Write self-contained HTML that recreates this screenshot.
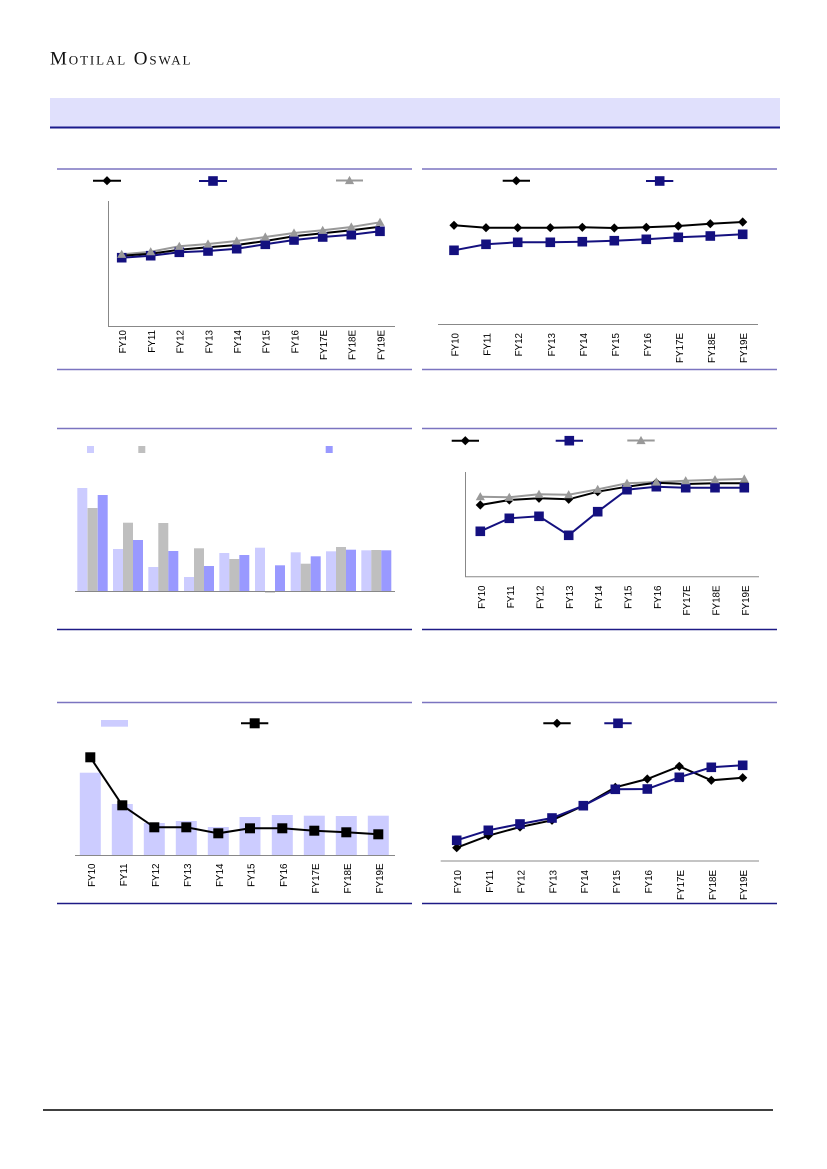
<!DOCTYPE html>
<html><head><meta charset="utf-8"><style>
html,body{margin:0;padding:0;background:#fff;}
svg{display:block;}
text{font-family:"Liberation Sans",Arial,sans-serif;}
</style></head><body>
<svg width="827" height="1169" viewBox="0 0 827 1169" xmlns="http://www.w3.org/2000/svg">
<defs>
<g id="dia"><path d="M0,-4.6 L4.6,0 L0,4.6 L-4.6,0Z" fill="#000"/></g>
<g id="sqn"><rect x="-4.8" y="-4.8" width="9.6" height="9.6" fill="#14107f"/></g>
<g id="sqk"><rect x="-5" y="-5" width="10" height="10" fill="#000"/></g>
<g id="tri"><path d="M0,-4.6 L4.6,3.6 L-4.6,3.6Z" fill="#999"/></g>
</defs>

<!-- Header -->
<text x="50" y="64.5" font-size="19" style="font-family:'Liberation Serif',serif;font-variant:small-caps;letter-spacing:1.9px" fill="#111">Motilal Oswal</text>
<rect x="50" y="98" width="730" height="29" fill="#e0e0fc"/>
<rect x="50" y="126.5" width="730" height="2" fill="#1a1a8c"/>

<!-- panel rules -->
<g stroke-width="1.5">
<line x1="57" y1="169" x2="412" y2="169" stroke="#7b74c0"/>
<line x1="422" y1="169" x2="777" y2="169" stroke="#7b74c0"/>
<line x1="57" y1="369.5" x2="412" y2="369.5" stroke="#7b74c0"/>
<line x1="422" y1="369.5" x2="777" y2="369.5" stroke="#7b74c0"/>
<line x1="57" y1="428.5" x2="412" y2="428.5" stroke="#7b74c0"/>
<line x1="422" y1="428.5" x2="777" y2="428.5" stroke="#7b74c0"/>
<line x1="57" y1="629.5" x2="412" y2="629.5" stroke="#1e1a86"/>
<line x1="422" y1="629.5" x2="777" y2="629.5" stroke="#1e1a86"/>
<line x1="57" y1="702.5" x2="412" y2="702.5" stroke="#7b74c0"/>
<line x1="422" y1="702.5" x2="777" y2="702.5" stroke="#7b74c0"/>
<line x1="57" y1="903.5" x2="412" y2="903.5" stroke="#1e1a86"/>
<line x1="422" y1="903.5" x2="777" y2="903.5" stroke="#1e1a86"/>
</g>

<!-- ===== Chart 1 ===== -->
<g>
<line x1="108.5" y1="201" x2="108.5" y2="326.5" stroke="#888" stroke-width="1"/>
<line x1="108" y1="326.5" x2="395" y2="326.5" stroke="#888" stroke-width="1"/>
<line x1="93" y1="180.7" x2="121" y2="180.7" stroke="#000" stroke-width="2"/><use href="#dia" x="107" y="180.7"/>
<line x1="199" y1="181" x2="227" y2="181" stroke="#14107f" stroke-width="2"/><use href="#sqn" x="213" y="181"/>
<line x1="336" y1="180.5" x2="363" y2="180.5" stroke="#999" stroke-width="2"/><use href="#tri" x="349.5" y="180.5"/>
<polyline fill="none" stroke="#999" stroke-width="2" points="121.7,254.3 150.7,251.7 179.3,246.3 208,244 236.7,241 265.3,237 294,233 322.7,230.3 351.3,227 380,222.3"/>
<polyline fill="none" stroke="#000" stroke-width="2" points="121.7,255.7 150.7,253.7 179.3,249.7 208,247.3 236.7,245 265.3,241 294,236.3 322.7,233.3 351.3,230.3 380,226.7"/>
<polyline fill="none" stroke="#14107f" stroke-width="2" points="121.7,257.7 150.7,255.7 179.3,252.3 208,251 236.7,248.7 265.3,244.3 294,240 322.7,237 351.3,234.7 380,231.3"/>
<g>
<use href="#sqn" x="121.7" y="257.7"/><use href="#sqn" x="150.7" y="255.7"/><use href="#sqn" x="179.3" y="252.3"/><use href="#sqn" x="208" y="251"/><use href="#sqn" x="236.7" y="248.7"/><use href="#sqn" x="265.3" y="244.3"/><use href="#sqn" x="294" y="240"/><use href="#sqn" x="322.7" y="237"/><use href="#sqn" x="351.3" y="234.7"/><use href="#sqn" x="380" y="231.3"/>
<use href="#tri" x="121.7" y="254.3"/><use href="#tri" x="150.7" y="251.7"/><use href="#tri" x="179.3" y="246.3"/><use href="#tri" x="208" y="244"/><use href="#tri" x="236.7" y="241"/><use href="#tri" x="265.3" y="237"/><use href="#tri" x="294" y="233"/><use href="#tri" x="322.7" y="230.3"/><use href="#tri" x="351.3" y="227"/><use href="#tri" x="380" y="222.3"/>
</g>
<g font-size="9.8" fill="#000" text-anchor="end">
<text transform="translate(126,330) rotate(-90)">FY10</text>
<text transform="translate(155,330) rotate(-90)">FY11</text>
<text transform="translate(183.6,330) rotate(-90)">FY12</text>
<text transform="translate(212.3,330) rotate(-90)">FY13</text>
<text transform="translate(241,330) rotate(-90)">FY14</text>
<text transform="translate(269.6,330) rotate(-90)">FY15</text>
<text transform="translate(298.3,330) rotate(-90)">FY16</text>
<text transform="translate(327,330) rotate(-90)">FY17E</text>
<text transform="translate(355.6,330) rotate(-90)">FY18E</text>
<text transform="translate(384.3,330) rotate(-90)">FY19E</text>
</g>
</g>

<!-- ===== Chart 2 ===== -->
<g>
<line x1="438" y1="324.5" x2="758" y2="324.5" stroke="#888" stroke-width="1"/>
<line x1="502.7" y1="180.7" x2="530" y2="180.7" stroke="#000" stroke-width="2"/><use href="#dia" x="516.3" y="180.7"/>
<line x1="646" y1="181" x2="673.3" y2="181" stroke="#14107f" stroke-width="2"/><use href="#sqn" x="659.7" y="181"/>
<polyline fill="none" stroke="#000" stroke-width="2" points="454,225.3 486,227.7 517.7,227.7 550.3,227.7 582.3,227.3 614.3,228 646.3,227.3 678.3,226 710.3,223.7 742.7,222"/>
<polyline fill="none" stroke="#14107f" stroke-width="2" points="454,250.3 486,244.3 517.7,242.3 550.3,242.3 582.3,241.7 614.3,240.7 646.3,239.3 678.3,237.3 710.3,236 742.7,234.3"/>
<use href="#dia" x="454" y="225.3"/><use href="#dia" x="486" y="227.7"/><use href="#dia" x="517.7" y="227.7"/><use href="#dia" x="550.3" y="227.7"/><use href="#dia" x="582.3" y="227.3"/><use href="#dia" x="614.3" y="228"/><use href="#dia" x="646.3" y="227.3"/><use href="#dia" x="678.3" y="226"/><use href="#dia" x="710.3" y="223.7"/><use href="#dia" x="742.7" y="222"/>
<use href="#sqn" x="454" y="250.3"/><use href="#sqn" x="486" y="244.3"/><use href="#sqn" x="517.7" y="242.3"/><use href="#sqn" x="550.3" y="242.3"/><use href="#sqn" x="582.3" y="241.7"/><use href="#sqn" x="614.3" y="240.7"/><use href="#sqn" x="646.3" y="239.3"/><use href="#sqn" x="678.3" y="237.3"/><use href="#sqn" x="710.3" y="236"/><use href="#sqn" x="742.7" y="234.3"/>
<g font-size="9.8" fill="#000" text-anchor="end">
<text transform="translate(458.5,333) rotate(-90)">FY10</text>
<text transform="translate(490.5,333) rotate(-90)">FY11</text>
<text transform="translate(522.2,333) rotate(-90)">FY12</text>
<text transform="translate(554.8,333) rotate(-90)">FY13</text>
<text transform="translate(586.8,333) rotate(-90)">FY14</text>
<text transform="translate(618.8,333) rotate(-90)">FY15</text>
<text transform="translate(650.8,333) rotate(-90)">FY16</text>
<text transform="translate(682.8,333) rotate(-90)">FY17E</text>
<text transform="translate(714.8,333) rotate(-90)">FY18E</text>
<text transform="translate(747.2,333) rotate(-90)">FY19E</text>
</g>
</g>

<!-- ===== Chart 3 (bars) ===== -->
<g>
<rect x="87" y="446" width="7" height="7" fill="#ccccff"/>
<rect x="138.3" y="446" width="7" height="7" fill="#bfbfbf"/>
<rect x="325.7" y="446" width="7" height="7" fill="#9999ff"/>
<g fill="#ccccff">
<rect x="77.3" y="488" width="10" height="103"/>
<rect x="113" y="549" width="10" height="42"/>
<rect x="148.3" y="567" width="10" height="24"/>
<rect x="184" y="577" width="10" height="14"/>
<rect x="219.3" y="553" width="10" height="38"/>
<rect x="255" y="547.7" width="10" height="43.3"/>
<rect x="290.7" y="552.3" width="10" height="38.7"/>
<rect x="326" y="551.3" width="10" height="39.7"/>
<rect x="361.3" y="550.3" width="10" height="40.7"/>
</g>
<g fill="#bfbfbf">
<rect x="87.5" y="508" width="10" height="83"/>
<rect x="123" y="522.7" width="10" height="68.3"/>
<rect x="158.3" y="523" width="10" height="68"/>
<rect x="194" y="548.3" width="10" height="42.7"/>
<rect x="229.3" y="559" width="10" height="32"/>
<rect x="265" y="591" width="10" height="1.7"/>
<rect x="300.7" y="563.7" width="10" height="27.3"/>
<rect x="336" y="547" width="10" height="44"/>
<rect x="371.3" y="550" width="10" height="41"/>
</g>
<g fill="#9999ff">
<rect x="97.7" y="495" width="10" height="96"/>
<rect x="133" y="540" width="10" height="51"/>
<rect x="168.3" y="551" width="10" height="40"/>
<rect x="204" y="566" width="10" height="25"/>
<rect x="239.3" y="555" width="10" height="36"/>
<rect x="275" y="565.3" width="10" height="25.7"/>
<rect x="310.7" y="556.3" width="10" height="34.7"/>
<rect x="346" y="549.7" width="10" height="41.3"/>
<rect x="381.3" y="550.3" width="10" height="40.7"/>
</g>
<line x1="75" y1="591.5" x2="395" y2="591.5" stroke="#888" stroke-width="1"/>
</g>

<!-- ===== Chart 4 ===== -->
<g>
<line x1="465.5" y1="472" x2="465.5" y2="577" stroke="#888" stroke-width="1"/>
<line x1="465" y1="576.7" x2="759" y2="576.7" stroke="#888" stroke-width="1"/>
<line x1="451.7" y1="440.7" x2="479" y2="440.7" stroke="#000" stroke-width="2"/><use href="#dia" x="465.3" y="440.7"/>
<line x1="555.7" y1="440.7" x2="583" y2="440.7" stroke="#14107f" stroke-width="2"/><use href="#sqn" x="569.3" y="440.7"/>
<line x1="627.3" y1="440.5" x2="654.7" y2="440.5" stroke="#999" stroke-width="2"/><use href="#tri" x="641" y="440.5"/>
<polyline fill="none" stroke="#999" stroke-width="2" points="480.3,496.7 509.3,497.3 539,494.3 568.7,494.7 597.7,489.3 627,483.3 656.3,482 685.7,480.7 715,479.7 744.3,479"/>
<polyline fill="none" stroke="#000" stroke-width="2" points="480.3,505 509.3,500 539,498.3 568.7,499.3 597.7,491.7 627,486.7 656.3,482.7 685.7,484 715,483.3 744.3,483.3"/>
<polyline fill="none" stroke="#14107f" stroke-width="2" points="480.3,531.3 509.3,518.3 539,516.3 568.7,535.3 597.7,511.7 627,489.7 656.3,486.7 685.7,487.7 715,487.7 744.3,487.7"/>
<use href="#dia" x="480.3" y="505"/><use href="#dia" x="509.3" y="500"/><use href="#dia" x="539" y="498.3"/><use href="#dia" x="568.7" y="499.3"/><use href="#dia" x="597.7" y="491.7"/><use href="#dia" x="627" y="486.7"/><use href="#dia" x="656.3" y="482.7"/><use href="#dia" x="685.7" y="484"/><use href="#dia" x="715" y="483.3"/><use href="#dia" x="744.3" y="483.3"/>
<use href="#sqn" x="480.3" y="531.3"/><use href="#sqn" x="509.3" y="518.3"/><use href="#sqn" x="539" y="516.3"/><use href="#sqn" x="568.7" y="535.3"/><use href="#sqn" x="597.7" y="511.7"/><use href="#sqn" x="627" y="489.7"/><use href="#sqn" x="656.3" y="486.7"/><use href="#sqn" x="685.7" y="487.7"/><use href="#sqn" x="715" y="487.7"/><use href="#sqn" x="744.3" y="487.7"/>
<use href="#tri" x="480.3" y="496.7"/><use href="#tri" x="509.3" y="497.3"/><use href="#tri" x="539" y="494.3"/><use href="#tri" x="568.7" y="494.7"/><use href="#tri" x="597.7" y="489.3"/><use href="#tri" x="627" y="483.3"/><use href="#tri" x="656.3" y="482"/><use href="#tri" x="685.7" y="480.7"/><use href="#tri" x="715" y="479.7"/><use href="#tri" x="744.3" y="479"/>
<g font-size="9.8" fill="#000" text-anchor="end">
<text transform="translate(484.8,585.5) rotate(-90)">FY10</text>
<text transform="translate(513.8,585.5) rotate(-90)">FY11</text>
<text transform="translate(543.5,585.5) rotate(-90)">FY12</text>
<text transform="translate(573.2,585.5) rotate(-90)">FY13</text>
<text transform="translate(602.2,585.5) rotate(-90)">FY14</text>
<text transform="translate(631.5,585.5) rotate(-90)">FY15</text>
<text transform="translate(660.8,585.5) rotate(-90)">FY16</text>
<text transform="translate(690.2,585.5) rotate(-90)">FY17E</text>
<text transform="translate(719.5,585.5) rotate(-90)">FY18E</text>
<text transform="translate(748.8,585.5) rotate(-90)">FY19E</text>
</g>
</g>

<!-- ===== Chart 5 ===== -->
<g>
<rect x="101" y="720" width="27" height="6.7" fill="#ccccff"/>
<line x1="241" y1="723.3" x2="268.3" y2="723.3" stroke="#000" stroke-width="2"/><use href="#sqk" x="254.7" y="723.3"/>
<g fill="#ccccff">
<rect x="79.8" y="772.7" width="21" height="82.8"/>
<rect x="111.8" y="804" width="21" height="51.5"/>
<rect x="143.8" y="823" width="21" height="32.5"/>
<rect x="175.8" y="821" width="21" height="34.5"/>
<rect x="207.8" y="827" width="21" height="28.5"/>
<rect x="239.5" y="817" width="21" height="38.5"/>
<rect x="271.8" y="815" width="21" height="40.5"/>
<rect x="303.8" y="815.7" width="21" height="39.8"/>
<rect x="335.8" y="816" width="21" height="39.5"/>
<rect x="367.8" y="815.7" width="21" height="39.8"/>
</g>
<line x1="75" y1="855.5" x2="395" y2="855.5" stroke="#888" stroke-width="1"/>
<polyline fill="none" stroke="#000" stroke-width="2" points="90.3,757.3 122.3,805.3 154.3,827.3 186.3,827.3 218.3,833.3 250,828.3 282.3,828.3 314.3,830.7 346.3,832.3 378.3,834.3"/>
<use href="#sqk" x="90.3" y="757.3"/><use href="#sqk" x="122.3" y="805.3"/><use href="#sqk" x="154.3" y="827.3"/><use href="#sqk" x="186.3" y="827.3"/><use href="#sqk" x="218.3" y="833.3"/><use href="#sqk" x="250" y="828.3"/><use href="#sqk" x="282.3" y="828.3"/><use href="#sqk" x="314.3" y="830.7"/><use href="#sqk" x="346.3" y="832.3"/><use href="#sqk" x="378.3" y="834.3"/>
<g font-size="9.8" fill="#000" text-anchor="end">
<text transform="translate(94.8,863.5) rotate(-90)">FY10</text>
<text transform="translate(126.8,863.5) rotate(-90)">FY11</text>
<text transform="translate(158.8,863.5) rotate(-90)">FY12</text>
<text transform="translate(190.8,863.5) rotate(-90)">FY13</text>
<text transform="translate(222.8,863.5) rotate(-90)">FY14</text>
<text transform="translate(254.5,863.5) rotate(-90)">FY15</text>
<text transform="translate(286.8,863.5) rotate(-90)">FY16</text>
<text transform="translate(318.8,863.5) rotate(-90)">FY17E</text>
<text transform="translate(350.8,863.5) rotate(-90)">FY18E</text>
<text transform="translate(382.8,863.5) rotate(-90)">FY19E</text>
</g>
</g>

<!-- ===== Chart 6 ===== -->
<g>
<line x1="440.7" y1="861" x2="759" y2="861" stroke="#888" stroke-width="1"/>
<line x1="543.3" y1="723.3" x2="570.7" y2="723.3" stroke="#000" stroke-width="2"/><use href="#dia" x="557" y="723.3"/>
<line x1="604.3" y1="723.3" x2="631.7" y2="723.3" stroke="#14107f" stroke-width="2"/><use href="#sqn" x="618" y="723.3"/>
<polyline fill="none" stroke="#000" stroke-width="2" points="456.7,847.7 488.3,835.7 520,827 552,820.3 583.3,805.7 615.3,787.3 647.3,779 679.3,766.3 711.3,780.3 742.7,777.7"/>
<polyline fill="none" stroke="#14107f" stroke-width="2" points="456.7,840.3 488.3,830.3 520,824 552,818 583.3,805.7 615.3,789.3 647.3,789 679.3,777.3 711.3,767.3 742.7,765.3"/>
<use href="#dia" x="456.7" y="847.7"/><use href="#dia" x="488.3" y="835.7"/><use href="#dia" x="520" y="827"/><use href="#dia" x="552" y="820.3"/><use href="#dia" x="583.3" y="805.7"/><use href="#dia" x="615.3" y="787.3"/><use href="#dia" x="647.3" y="779"/><use href="#dia" x="679.3" y="766.3"/><use href="#dia" x="711.3" y="780.3"/><use href="#dia" x="742.7" y="777.7"/>
<use href="#sqn" x="456.7" y="840.3"/><use href="#sqn" x="488.3" y="830.3"/><use href="#sqn" x="520" y="824"/><use href="#sqn" x="552" y="818"/><use href="#sqn" x="583.3" y="805.7"/><use href="#sqn" x="615.3" y="789.3"/><use href="#sqn" x="647.3" y="789"/><use href="#sqn" x="679.3" y="777.3"/><use href="#sqn" x="711.3" y="767.3"/><use href="#sqn" x="742.7" y="765.3"/>
<g font-size="9.8" fill="#000" text-anchor="end">
<text transform="translate(461.2,870) rotate(-90)">FY10</text>
<text transform="translate(492.8,870) rotate(-90)">FY11</text>
<text transform="translate(524.5,870) rotate(-90)">FY12</text>
<text transform="translate(556.5,870) rotate(-90)">FY13</text>
<text transform="translate(587.8,870) rotate(-90)">FY14</text>
<text transform="translate(619.8,870) rotate(-90)">FY15</text>
<text transform="translate(651.8,870) rotate(-90)">FY16</text>
<text transform="translate(683.8,870) rotate(-90)">FY17E</text>
<text transform="translate(715.8,870) rotate(-90)">FY18E</text>
<text transform="translate(747.2,870) rotate(-90)">FY19E</text>
</g>
</g>

<!-- footer -->
<line x1="43" y1="1110" x2="773" y2="1110" stroke="#000" stroke-width="1.5"/>
</svg>
</body></html>
